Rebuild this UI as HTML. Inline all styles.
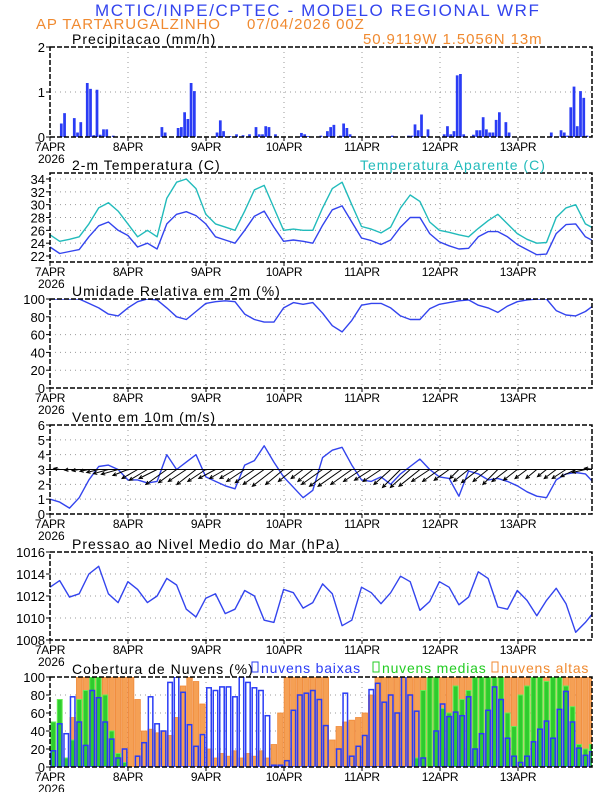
<!DOCTYPE html>
<html><head><meta charset="utf-8"><style>
html,body{margin:0;padding:0;background:#fff;}
svg{display:block;font-family:"Liberation Sans",sans-serif;}
</style></head><body>
<svg id="chart" width="612" height="792" viewBox="0 0 612 792" xmlns="http://www.w3.org/2000/svg">
<text x="95" y="16" font-size="17" fill="#3344ee" letter-spacing="1.6">MCTIC/INPE/CPTEC - MODELO REGIONAL WRF</text>
<text x="36" y="29" font-size="15" fill="#f08a30" letter-spacing="0.9">AP TARTARUGALZINHO</text>
<text x="247" y="29" font-size="15" fill="#f08a30" letter-spacing="0.9">07/04/2026 00Z</text>
<text x="363" y="44" font-size="15" fill="#f08a30" letter-spacing="0.9">50.9119W 1.5056N 13m</text>
<g id="plots"></g>
</svg>
<script>
// ---- data (hours since 07APR 00Z) ----
const dayLabels = ["7APR","8APR","9APR","10APR","11APR","12APR","13APR"];
const precipHours = [3,4,7,8,9,11,12,13,14,15,16,17,19,34,35,39,40,41,42,43,44,51,52,53,55,57,59,61,63,64,65,66,67,69,77,78,79,83,85,86,87,89,90,91,92,105,110,111,112,113,114,116,121,122,123,124,125,126,127,130,131,132,133,134,135,136,137,138,140,141,154,157,158,159,160,161,162,163,164,165];
const precipValues = [0.3,0.53,0.42,0.1,0.33,1.2,1.07,0.04,1.05,0.05,0.17,0.17,0.03,0.22,0.1,0.2,0.22,0.55,0.4,1.2,1.02,0.1,0.37,0.13,0.02,0.06,0.04,0.06,0.22,0.06,0.06,0.24,0.22,0.06,0.09,0.06,0.02,0.03,0.13,0.22,0.27,0.03,0.3,0.2,0.06,0.03,0.03,0.03,0.28,0.15,0.5,0.17,0.06,0.24,0.06,0.13,1.37,1.4,0.06,0.05,0.15,0.15,0.44,0.17,0.1,0.1,0.38,0.55,0.33,0.1,0.1,0.15,0.1,0.03,0.66,1.12,0.24,1.02,0.87,0.03];
const tempValues = [23.4,22.4,22.7,23.0,25.0,26.7,27.3,26.0,25.2,23.4,24.0,23.1,27.0,28.5,28.9,28.3,27.0,25.0,24.5,24.0,26.0,28.2,29.0,26.5,24.3,24.5,24.3,24.0,26.8,29.2,29.8,27.3,24.8,24.4,23.8,24.5,26.5,28.0,28.0,25.5,24.2,23.6,23.1,23.2,25.0,25.8,25.8,25.0,23.8,23.0,22.2,22.3,25.5,26.9,27.0,25.0,24.2];
const apparentValues = [25.3,24.3,24.6,25.0,27.0,29.5,30.3,29.0,27.0,25.0,26.0,25.0,31.0,33.5,34.0,32.5,28.5,27.0,26.5,26.0,29.0,32.3,33.0,29.5,26.0,26.2,26.0,26.0,29.5,32.5,33.5,30.0,26.6,26.2,25.6,26.5,29.5,31.5,30.5,27.3,26.0,25.7,25.3,25.0,26.3,27.5,28.5,27.0,25.5,24.6,24.0,24.1,28.0,29.5,30.0,27.0,26.2];
const humidityValues = [100,100,100,100,95,90,83,81,90,97,100,99,90,80,77,86,95,97,98,97,83,77,74,74,90,96,94,96,84,70,63,76,93,95,95,90,81,77,77,89,94,96,98,99,93,90,85,92,97,99,100,100,87,82,81,86,94];
const windSpeed = [1.0,0.8,0.4,1.1,2.3,3.2,3.3,3.0,2.3,2.3,2.1,2.2,4.0,3.0,3.5,4.0,2.5,2.2,1.9,1.7,3.3,3.6,4.6,3.5,2.5,1.8,1.1,1.6,3.8,4.3,4.5,3.3,2.3,2.2,2.5,2.0,2.7,3.2,3.7,3.0,2.5,2.4,1.2,2.9,2.7,2.3,2.4,2.2,1.9,1.5,1.2,1.1,2.3,2.7,2.8,2.7,2.0];
const windU = [-1.2,-1,-0.8,-1.2,-1.5,-2,-2.5,-2.8,-2.5,-2.6,-3,-3,-3.5,-3,-3,-3.2,-3,-2.8,-2.6,-2.5,-3,-3.2,-3.5,-3.6,-3,-2.5,-2,-2.5,-3.5,-3.8,-4,-3.5,-3,-2.8,-3,-2.8,-3,-3.3,-3.5,-3,-2.8,-2.5,-1.5,-2.5,-2.8,-2.5,-2.5,-2.6,-2.3,-2,-1.8,-1.5,-2,-2.3,-2.5,-2.2,-1.8];
const windV = [0,0.2,-0.1,-0.2,-0.3,-0.5,-0.7,-0.8,-1,-1.5,-1.8,-1.5,-2.5,-2.2,-2,-2.5,-2,-1.5,-1.5,-1.5,-2,-2.2,-2.5,-2.8,-2.5,-2,-1.5,-2,-2.5,-2.8,-2.8,-2.5,-2,-1.8,-2,-2.5,-3,-3,-2.8,-2,-2,-1.8,-1.5,-2,-2.2,-2,-2.5,-2,-1.8,-1.5,-1.5,-1.2,-1.5,-1.5,-1.2,-0.5,0.2];
const pressureValues = [1012.8,1013.4,1011.9,1012.2,1014.0,1014.7,1012.2,1011.4,1013.3,1012.6,1011.4,1012,1013.6,1013,1010.8,1010.1,1011.8,1012.2,1010.4,1010.8,1012.5,1012,1009.8,1009.6,1012.6,1012.3,1010.9,1011.4,1013.1,1012.2,1009.3,1009.8,1012.8,1012.3,1011.3,1012.3,1013.8,1013.3,1010.7,1011.5,1013.3,1012.8,1011.2,1011.9,1014.2,1013.6,1011,1010.8,1012.5,1011.6,1010.2,1011.6,1012.7,1011.3,1008.7,1009.6,1010.7];
const cloudHigh = [0,0,0,55,100,100,100,100,100,100,100,100,100,75,40,42,38,40,35,55,90,100,95,70,20,10,15,12,18,10,15,12,18,10,25,60,100,100,100,100,100,100,100,30,45,50,52,55,60,80,100,100,100,100,100,100,100,100,100,100,100,100,100,100,100,100,100,100,100,100,100,100,100,100,100,100,100,100,100,100,100,100,100,100];
const cloudMid = [50,75,10,30,75,85,100,100,80,40,15,5,0,0,0,0,0,0,0,0,0,0,0,0,0,0,0,0,0,0,0,0,0,0,0,0,0,0,0,0,0,0,0,0,0,0,0,0,0,0,0,0,0,0,0,0,10,85,100,100,65,60,90,75,85,100,100,100,100,100,60,45,80,90,100,100,95,100,100,90,67,25,20,25];
const cloudLow = [18,48,37,78,50,24,85,77,50,31,10,20,0,12,27,78,48,40,94,100,83,47,23,36,88,85,89,89,78,100,94,88,85,57,2,2,7,63,80,82,85,75,46,0,20,82,12,23,35,86,93,72,80,60,100,80,62,10,0,40,70,56,61,57,78,20,37,63,89,75,32,12,5,12,28,42,51,32,64,84,50,21,13,17];

// ---- layout ----
const X0 = 50, PXH = 3.245, XEND = 592;
const xh = h => X0 + h * PXH;
const NS = "http://www.w3.org/2000/svg";
const root = document.getElementById('plots');
function mk(tag, attrs, parent) {
  const e = document.createElementNS(NS, tag);
  for (const k in attrs) e.setAttribute(k, attrs[k]);
  (parent || root).appendChild(e);
  return e;
}
function panel(name, top, bot, vmin, vmax, ticks, title) {
  const g = mk('g', {});
  
  
  const y = v => bot - (v - vmin) / (vmax - vmin) * (bot - top);
  for (let d = 1; d < 7; d++) {
    const gx = X0 + d * 78;
    const l = mk('line', {x1: gx, x2: gx, y1: top, y2: bot, stroke: '#999', 'stroke-width': 1, 'stroke-dasharray': '1,4'}, g);
    
    
  }
  ticks.forEach(t => {
    const ty = y(t);
    if (ty > top + 1 && ty < bot - 1) {
      const l = mk('line', {x1: X0, x2: XEND, y1: ty, y2: ty, stroke: '#999', 'stroke-width': 1, 'stroke-dasharray': '1,4'}, g);
      
      
    }
    const tk = mk('line', {x1: X0 - 4, x2: X0, y1: ty, y2: ty, stroke: '#000'}, g);
    
    
    const tl = mk('text', {x: X0 - 5, y: ty + 5, 'text-anchor': 'end', 'font-size': 13}, g);
    tl.textContent = t;
    
    
  });
  dayLabels.forEach((lab, d) => {
    const dx = X0 + d * 78;
    const tk = mk('line', {x1: dx, x2: dx, y1: bot, y2: bot + 4, stroke: '#000'}, g);
    
    
    const tl = mk('text', {x: dx, y: bot + 14, 'text-anchor': 'middle', 'font-size': 12, 'letter-spacing': -0.3}, g);
    tl.textContent = lab;
    
    
  });
  const yr = mk('text', {x: 38, y: bot + 26, 'font-size': 12}, g);
  yr.textContent = '2026';
  
  
  const tt = mk('text', {x: 72, y: top - 3, 'font-size': 14, 'letter-spacing': 1}, g);
  tt.textContent = title;
  
  
  const plot = mk('g', {'clip-path': 'url(#clip-' + name + ')'}, g);
  const cp = mk('clipPath', {id: 'clip-' + name}, g);
  mk('rect', {x: X0, y: top, width: XEND - X0, height: bot - top}, cp);
  const fr = mk('rect', {x: X0, y: top, width: XEND - X0, height: bot - top, fill: 'none', stroke: '#000', 'stroke-width': 1.5, 'stroke-dasharray': '5,2'}, g);
  
  
  return {g, plot, y, top, bot};
}
function line(p, vals, step, color, name) {
  const d = vals.map((v, i) => (i ? 'L' : 'M') + xh(i * step).toFixed(1) + ',' + p.y(v).toFixed(1)).join('');
  const e = mk('path', {d, fill: 'none', stroke: color, 'stroke-width': 1.4, 'stroke-linejoin': 'round'}, p.plot);
  
  
}

const p1 = panel('precipitation', 47, 137, 0, 2, [0, 1, 2], 'Precipitacao (mm/h)');
precipHours.forEach((h, i) => {
  const v = precipValues[i];
  const b = mk('rect', {x: xh(h) + 0.2, y: p1.y(v), width: PXH - 0.5, height: p1.bot - p1.y(v), fill: '#2a3cf5'}, p1.plot);
  
  
});

const p2 = panel('temperature', 173, 262, 21.07, 34.93, [22, 24, 26, 28, 30, 32, 34], '2-m Temperatura (C)');
line(p2, apparentValues, 3, '#22bbbb', 'apparent-temperature-line');
line(p2, tempValues, 3, '#3344ee', 'temperature-line');
const at = mk('text', {x: 360, y: 170, 'font-size': 14, fill: '#22bbbb', 'letter-spacing': 1}, p2.g);
at.textContent = 'Temperatura Aparente (C)';



const p3 = panel('humidity', 299, 388, 0, 100, [0, 20, 40, 60, 80, 100], 'Umidade Relativa em 2m (%)');
line(p3, humidityValues, 3, '#3344ee', 'humidity-line');

const p4 = panel('wind', 425, 514, 0, 6, [0, 1, 2, 3, 4, 5, 6], 'Vento em 10m (m/s)');
line(p4, windSpeed, 3, '#3344ee', 'wind-speed-line');
windU.forEach((u, i) => {
  const v = windV[i];
  const x1 = xh(i * 3), y1 = p4.y(3);
  const x2 = x1 + u * 6, y2 = y1 - v * 6;
  const ang = Math.atan2(y2 - y1, x2 - x1);
  const a1 = ang + 2.7, a2 = ang - 2.7;
  const d = 'M' + x1 + ',' + y1 + 'L' + x2 + ',' + y2 +
    'M' + (x2 + 4 * Math.cos(a1)) + ',' + (y2 + 4 * Math.sin(a1)) + 'L' + x2 + ',' + y2 +
    'L' + (x2 + 4 * Math.cos(a2)) + ',' + (y2 + 4 * Math.sin(a2));
  const e = mk('path', {d, stroke: '#000', 'stroke-width': 1, fill: 'none'}, p4.plot);
  
  
});
const bl = mk('line', {x1: X0, x2: XEND, y1: p4.y(3), y2: p4.y(3), stroke: '#000', 'stroke-width': 1}, p4.plot);



const p5 = panel('pressure', 552, 640, 1008, 1016, [1008, 1010, 1012, 1014, 1016], 'Pressao ao Nivel Medio do Mar (hPa)');
line(p5, pressureValues, 3, '#3344ee', 'pressure-line');

const p6 = panel('clouds', 677, 767, 0, 100, [0, 20, 40, 60, 80, 100], 'Cobertura de Nuvens (%)');
const bw = 2 * PXH;
cloudHigh.forEach((v, i) => {
  if (!v) return;
  const b = mk('rect', {x: xh(i * 2) + 0.5, y: p6.y(v), width: bw - 1, height: p6.bot - p6.y(v), fill: '#f5a055', stroke: '#f08a3a', 'stroke-width': 0.8}, p6.plot);
  
  
});
cloudMid.forEach((v, i) => {
  if (!v) return;
  const b = mk('rect', {x: xh(i * 2) + 0.8, y: p6.y(v), width: bw - 1.6, height: p6.bot - p6.y(v), fill: '#2ecc2e', stroke: '#66ee55', 'stroke-width': 1}, p6.plot);
  
  
});
cloudLow.forEach((v, i) => {
  if (!v) return;
  const b = mk('rect', {x: xh(i * 2) + 1, y: p6.y(v), width: bw - 2, height: p6.bot - p6.y(v), fill: 'none', stroke: '#2a3cf5', 'stroke-width': 1.5}, p6.plot);
  
  
});
const legend = [['nuvens baixas', '#2a3cf5', 252, 'legend-low-clouds'], ['nuvens medias', '#22cc22', 373, 'legend-mid-clouds'], ['nuvens altas', '#f08a30', 492, 'legend-high-clouds']];
legend.forEach(([t, c, lx, nm]) => {
  const s = mk('rect', {x: lx, y: 662, width: 6, height: 10, fill: 'none', stroke: c, 'stroke-width': 1}, p6.g);
  
  
  const tx = mk('text', {x: lx + 9, y: 673, 'font-size': 14, fill: c, 'letter-spacing': 0.8}, p6.g);
  tx.textContent = t;
  
  
});
</script>
</body></html>
